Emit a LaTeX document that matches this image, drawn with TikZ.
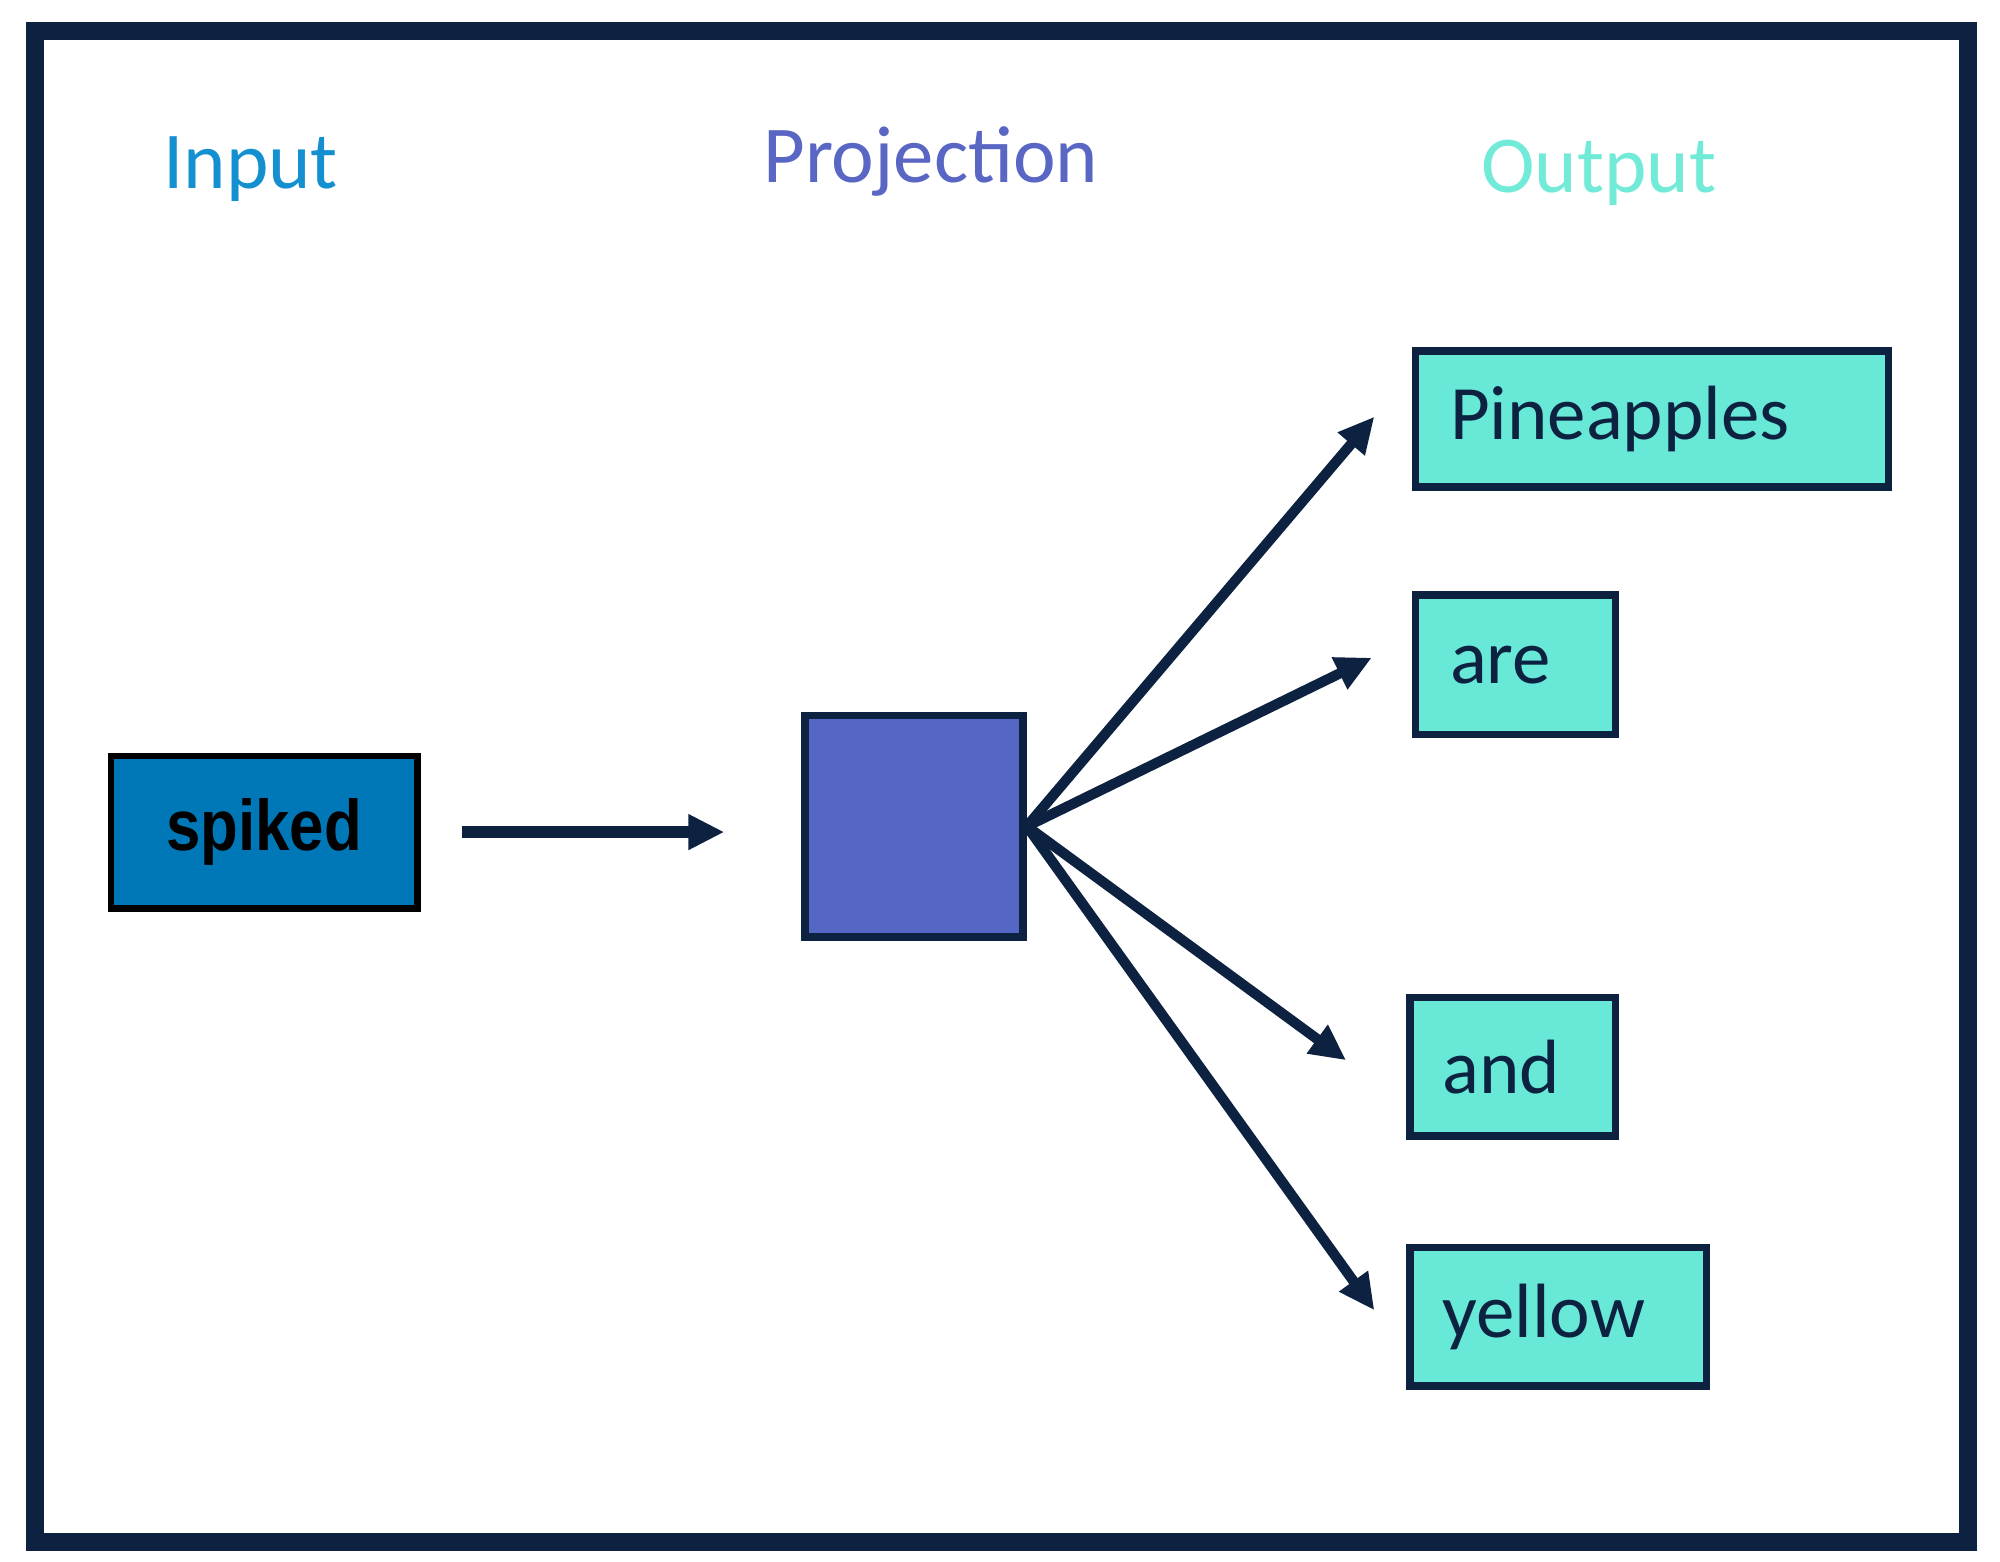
\documentclass[tikz,border=0pt]{standalone}
\usepackage{fontspec}
\setmainfont{Carlito}
\newfontfamily\spikedfont[FakeStretch=0.86]{Liberation Sans}
\usetikzlibrary{arrows.meta}
\definecolor{navy}{HTML}{0C2240}
\definecolor{incol}{HTML}{1490D0}
\definecolor{projcol}{HTML}{5A66C4}
\definecolor{outcol}{HTML}{72EAD8}
\definecolor{spikefill}{HTML}{0077B6}
\definecolor{projfill}{HTML}{5467C4}
\definecolor{boxfill}{HTML}{68E8D7}
\tikzset{
  heading/.style={anchor=base west, inner sep=0pt, font=\fontsize{31.5pt}{36pt}\selectfont},
  outbox/.style={draw=navy, line width=3pt, fill=boxfill, anchor=north west, align=left,
    inner ysep=0pt, text=navy, font=\fontsize{30pt}{34pt}\selectfont},
  conn/.style={draw=navy, line width=4pt, -{Triangle[length=14pt,width=13pt]}},
}
\begin{document}
\begin{tikzpicture}[x=0.5pt,y=-0.5pt]
\useasboundingbox (0,0) rectangle (1560,1217.6);
\draw[navy, line width=7pt] (27,24) rectangle (1535,1203);
\node[heading, text=incol] (hin) at (127,147) {Input};
\node[heading, text=projcol] (hproj) at (595,142) {Projection};
\node[heading, text=outcol] (hout) at (1155,150) {Output};
\node[draw=black, line width=2.5pt, fill=spikefill, anchor=north west, minimum width=119.5pt, minimum height=59.5pt,
  font=\spikedfont\bfseries\fontsize{28pt}{30pt}\selectfont, text=black] (spiked) at (84,587) {spiked};
\node[draw=navy, line width=3pt, fill=projfill, anchor=north west, minimum width=85pt, minimum height=86.5pt] (proj) at (625,555) {};
\node[outbox, inner xsep=13.5pt, text width=157.5pt, minimum height=53pt] (pine) at (1101,271) {Pineapples};
\node[outbox, inner xsep=13.5pt, text width=51pt, minimum height=54.5pt] (are) at (1101,461) {are};
\node[outbox, inner xsep=12.5pt, text width=55pt, minimum height=54pt] (and) at (1097,775) {and};
\node[outbox, inner xsep=12.5pt, text width=90.5pt, minimum height=54pt] (yellow) at (1097,970) {yellow};
\coordinate (t1) at (1072,325);
\coordinate (t2) at (1070,513);
\coordinate (t3) at (1050,827);
\coordinate (t4) at (1072,1022);
\draw[conn, line width=4.5pt, shorten <=16pt, shorten >=30pt] (spiked.east) -- (proj.west |- spiked.east);
\draw[conn] (proj.east) -- (t1);
\draw[conn] (proj.east) -- (t2);
\draw[conn] (proj.east) -- (t3);
\draw[conn] (proj.east) -- (t4);
\end{tikzpicture}
\end{document}
